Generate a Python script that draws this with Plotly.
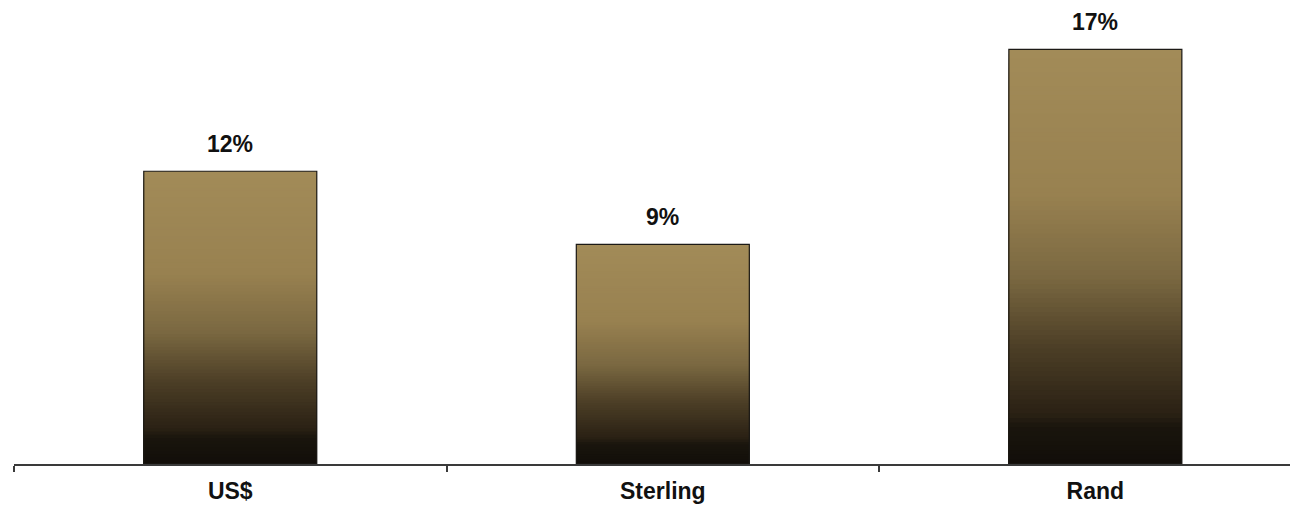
import plotly.graph_objects as go

# Currency returns
categories = ["US$", "Sterling", "Rand"]
returns_pct = [12, 9, 17]

# Vertical fill ramp: (fraction down from bar top, RGB)
ramp_stops = [
    (0.00, (162, 139, 88)),
    (0.35, (152, 129, 80)),
    (0.55, (122, 104, 65)),
    (0.72, (76, 62, 38)),
    (0.88, (42, 33, 20)),
    (0.91, (26, 21, 13)),
    (1.00, (18, 14, 9)),
]

N_STEPS = 90
BAR_WIDTH = 0.4
FONT = "Arial, 'Liberation Sans', sans-serif"


def ramp_color(f):
    for (f0, c0), (f1, c1) in zip(ramp_stops[:-1], ramp_stops[1:]):
        if f0 <= f <= f1:
            t = 0 if f1 == f0 else (f - f0) / (f1 - f0)
            r, g, b = (round(a + (b_ - a) * t) for a, b_ in zip(c0, c1))
            return f"rgb({r},{g},{b})"
    r, g, b = ramp_stops[-1][1]
    return f"rgb({r},{g},{b})"


fig = go.Figure()

# Gradient fill: overlapping bars from the baseline, tallest (lightest top) first,
# each shorter layer carries the colour for its own top edge.
for k in range(N_STEPS):
    frac_top = k / N_STEPS
    fig.add_trace(go.Bar(
        x=categories,
        y=[v * (1 - frac_top) for v in returns_pct],
        width=BAR_WIDTH,
        marker=dict(color=ramp_color(frac_top + 0.5 / N_STEPS), line=dict(width=0)),
        hoverinfo="skip",
        showlegend=False,
    ))

# Outline around each bar
fig.add_trace(go.Bar(
    x=categories,
    y=returns_pct,
    width=BAR_WIDTH,
    marker=dict(color="rgba(0,0,0,0)", line=dict(color="#1c1a16", width=1.2)),
    showlegend=False,
))

# Value labels above the bars
for cat, v in zip(categories, returns_pct):
    fig.add_annotation(
        x=cat, y=v, text=f"{v}%", showarrow=False,
        yanchor="bottom", yshift=12,
        font=dict(family=FONT, size=23, color="#111111", weight="bold"),
    )

fig.update_layout(
    width=1290, height=511,
    margin=dict(l=14, r=0, t=0, b=47),
    paper_bgcolor="white", plot_bgcolor="white",
    barmode="overlay",
    xaxis=dict(
        type="category",
        categoryorder="array", categoryarray=categories,
        range=[-0.5, 2.45],
        showline=True, linecolor="#3a3a3a", linewidth=1.5,
        ticks="outside", tickson="boundaries", ticklen=6, tickcolor="#3a3a3a", tickwidth=1.5,
        showgrid=False, zeroline=False,
        tickfont=dict(family=FONT, size=23, color="#111111", weight="bold"),
        ticklabelstandoff=6,
    ),
    yaxis=dict(
        range=[0, 19.02],
        visible=False, showgrid=False, zeroline=False,
    ),
)

fig.write_html("out.html")
